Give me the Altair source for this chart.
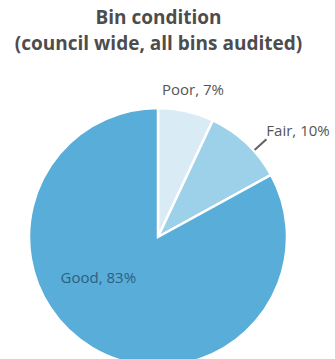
import altair as alt
import pandas as pd

categories = ["Poor", "Fair", "Good"]
values = [7, 10, 83]
colors = ["#d9ecf6", "#9dd0e9", "#58add9"]
labels = ["Poor, 7%", "Fair, 10%", "Good, 83%"]

df = pd.DataFrame({"cat": categories, "val": values, "label": labels, "ord": [0, 1, 2]})

CX, CY = 158, 177  # pie center inside the view
R = 129
pos = dict(x=alt.value(CX), y=alt.value(CY))
tscale = alt.Scale(domain=[0, 1], range=[0, 6.283185307])

base = alt.Chart(df).transform_window(
    cum="sum(val)", sort=[alt.SortField("ord")], frame=[None, 0]
).transform_joinaggregate(
    tot="sum(val)"
).transform_calculate(
    t_end="datum.cum / datum.tot",
    t_start="(datum.cum - datum.val) / datum.tot",
    mid="(datum.cum - datum.val/2) / datum.tot",
)

pie = base.mark_arc(radius=R, stroke="white", strokeWidth=2.5).encode(
    theta=alt.Theta("t_start:Q", scale=tscale),
    theta2="t_end:Q",
    color=alt.Color("cat:N", scale=alt.Scale(domain=categories, range=colors), legend=None),
    **pos,
)

def lbl(cat, radius, color, align="center", dx=0, dy=0):
    return base.transform_filter(alt.datum.cat == cat).mark_text(
        font="Open Sans", fontSize=15, radius=radius, color=color, align=align, dx=dx, dy=dy
    ).encode(
        theta=alt.Theta("mid:Q", scale=tscale),
        text="label:N",
        **pos,
    )

leader = base.transform_filter(alt.datum.cat == "Fair").transform_calculate(
    t1="datum.mid + 0.012", t2="datum.mid + 0.0145"
).mark_arc(radius=130, radius2=146, color="#666666").encode(
    theta=alt.Theta("t1:Q", scale=tscale),
    theta2="t2:Q",
    **pos,
)

chart = alt.layer(
    pie,
    leader,
    lbl("Poor", 151, "#555555", dx=2),
    lbl("Fair", 151, "#555555", align="left", dx=5, dy=4),
    lbl("Good", 72, "#2e5f80", dx=-23, dy=-21),
).properties(
    width=335,
    height=299,
    title=alt.TitleParams(
        text=["Bin condition", "(council wide, all bins audited)"],
        font="Open Sans",
        fontSize=19,
        fontWeight="bold",
        color="#4d4d4d",
        anchor="middle",
        lineHeight=26,
        offset=6,
        dx=-9,
    ),
    autosize=alt.AutoSizeParams(type="none"),
    padding={"top": 60, "left": 0, "right": 0, "bottom": 0},
).configure_view(stroke=None)

chart.save("out.html", embed_options={"renderer": "svg", "actions": False})
